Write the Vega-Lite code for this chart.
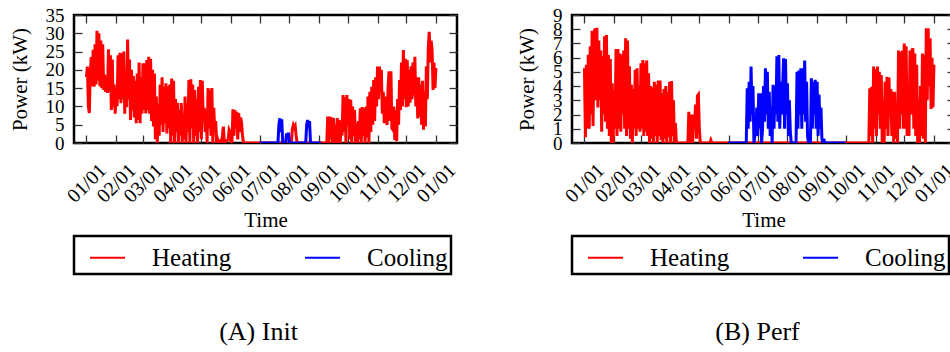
{
"$schema": "https://vega.github.io/schema/vega-lite/v6.json",
"background": "white",
"padding": {"left": 7, "top": 4, "right": 0, "bottom": 0},
"config": {
  "font": "Liberation Serif",
  "view": {"stroke": "black", "strokeWidth": 2.5},
  "axis": {"labelFont": "Liberation Serif", "titleFont": "Liberation Serif", "labelColor": "black", "titleColor": "black", "titleFontWeight": "normal", "domain": false, "grid": false, "tickColor": "#333", "tickWidth": 1.3, "tickSize": -8, "labelFontSize": 19, "titleFontSize": 21},
  "legend": {"labelFont": "Liberation Serif", "labelFontSize": 25, "labelColor": "black", "symbolType": "stroke", "symbolSize": 1225, "symbolStrokeWidth": 2, "labelOffset": 26, "columnPadding": 60, "padding": 3, "symbolOffset": 12, "strokeColor": "black", "strokeWidth": 2.5},
  "title": {"font": "Liberation Serif", "fontWeight": "normal", "color": "black"}
},
"datasets": {
"A": [
{"s":"Heating","t":"2021-01-01","v":18},{"s":"Heating","t":"2021-01-02","v":20.9},{"s":"Heating","t":"2021-01-03","v":10},{"s":"Heating","t":"2021-01-04","v":8.2},{"s":"Heating","t":"2021-01-05","v":19},{"s":"Heating","t":"2021-01-06","v":23.5},{"s":"Heating","t":"2021-01-07","v":15.5},{"s":"Heating","t":"2021-01-08","v":25.5},{"s":"Heating","t":"2021-01-09","v":15.4},{"s":"Heating","t":"2021-01-10","v":27},{"s":"Heating","t":"2021-01-11","v":16},{"s":"Heating","t":"2021-01-12","v":30.7},{"s":"Heating","t":"2021-01-13","v":17},{"s":"Heating","t":"2021-01-14","v":30},{"s":"Heating","t":"2021-01-15","v":15.5},{"s":"Heating","t":"2021-01-16","v":28},{"s":"Heating","t":"2021-01-17","v":15},{"s":"Heating","t":"2021-01-18","v":27},{"s":"Heating","t":"2021-01-19","v":14.5},{"s":"Heating","t":"2021-01-20","v":18.7},{"s":"Heating","t":"2021-01-21","v":14},{"s":"Heating","t":"2021-01-22","v":17},{"s":"Heating","t":"2021-01-23","v":13.7},{"s":"Heating","t":"2021-01-24","v":25.6},{"s":"Heating","t":"2021-01-25","v":14},{"s":"Heating","t":"2021-01-26","v":24},{"s":"Heating","t":"2021-01-27","v":9},{"s":"Heating","t":"2021-01-28","v":22.8},{"s":"Heating","t":"2021-01-29","v":9.8},{"s":"Heating","t":"2021-01-30","v":16},{"s":"Heating","t":"2021-01-31","v":8},
{"s":"Heating","t":"2021-02-01","v":14},{"s":"Heating","t":"2021-02-02","v":10},{"s":"Heating","t":"2021-02-03","v":24},{"s":"Heating","t":"2021-02-04","v":12},{"s":"Heating","t":"2021-02-05","v":24.7},{"s":"Heating","t":"2021-02-06","v":10.9},{"s":"Heating","t":"2021-02-07","v":24.5},{"s":"Heating","t":"2021-02-08","v":12},{"s":"Heating","t":"2021-02-09","v":25},{"s":"Heating","t":"2021-02-10","v":8},{"s":"Heating","t":"2021-02-11","v":20},{"s":"Heating","t":"2021-02-12","v":9.8},{"s":"Heating","t":"2021-02-13","v":28.3},{"s":"Heating","t":"2021-02-14","v":12},{"s":"Heating","t":"2021-02-15","v":22.8},{"s":"Heating","t":"2021-02-16","v":6.3},{"s":"Heating","t":"2021-02-17","v":20},{"s":"Heating","t":"2021-02-18","v":9},{"s":"Heating","t":"2021-02-19","v":18.3},{"s":"Heating","t":"2021-02-20","v":7},{"s":"Heating","t":"2021-02-21","v":17},{"s":"Heating","t":"2021-02-22","v":5.4},{"s":"Heating","t":"2021-02-23","v":19},{"s":"Heating","t":"2021-02-24","v":6.3},{"s":"Heating","t":"2021-02-25","v":22},{"s":"Heating","t":"2021-02-26","v":5.4},{"s":"Heating","t":"2021-02-27","v":18},{"s":"Heating","t":"2021-02-28","v":8},
{"s":"Heating","t":"2021-03-01","v":21.8},{"s":"Heating","t":"2021-03-02","v":9},{"s":"Heating","t":"2021-03-03","v":21.8},{"s":"Heating","t":"2021-03-04","v":8.1},{"s":"Heating","t":"2021-03-05","v":22.7},{"s":"Heating","t":"2021-03-06","v":9},{"s":"Heating","t":"2021-03-07","v":23.6},{"s":"Heating","t":"2021-03-08","v":8},{"s":"Heating","t":"2021-03-09","v":23},{"s":"Heating","t":"2021-03-10","v":6},{"s":"Heating","t":"2021-03-11","v":20},{"s":"Heating","t":"2021-03-12","v":4.5},{"s":"Heating","t":"2021-03-13","v":19},{"s":"Heating","t":"2021-03-14","v":1},{"s":"Heating","t":"2021-03-15","v":12.7},{"s":"Heating","t":"2021-03-16","v":0},{"s":"Heating","t":"2021-03-17","v":10.6},{"s":"Heating","t":"2021-03-18","v":2},{"s":"Heating","t":"2021-03-19","v":16},{"s":"Heating","t":"2021-03-20","v":5},{"s":"Heating","t":"2021-03-21","v":18},{"s":"Heating","t":"2021-03-22","v":3},{"s":"Heating","t":"2021-03-23","v":15.4},{"s":"Heating","t":"2021-03-24","v":5.4},{"s":"Heating","t":"2021-03-25","v":16.3},{"s":"Heating","t":"2021-03-26","v":2.6},{"s":"Heating","t":"2021-03-27","v":15.5},{"s":"Heating","t":"2021-03-28","v":4},{"s":"Heating","t":"2021-03-29","v":16},{"s":"Heating","t":"2021-03-30","v":0},{"s":"Heating","t":"2021-03-31","v":17.6},
{"s":"Heating","t":"2021-04-01","v":2},{"s":"Heating","t":"2021-04-02","v":17},{"s":"Heating","t":"2021-04-03","v":0},{"s":"Heating","t":"2021-04-04","v":12},{"s":"Heating","t":"2021-04-05","v":3},{"s":"Heating","t":"2021-04-06","v":11},{"s":"Heating","t":"2021-04-07","v":0},{"s":"Heating","t":"2021-04-08","v":9},{"s":"Heating","t":"2021-04-09","v":2},{"s":"Heating","t":"2021-04-10","v":10.9},{"s":"Heating","t":"2021-04-11","v":0},{"s":"Heating","t":"2021-04-12","v":8},{"s":"Heating","t":"2021-04-13","v":1},{"s":"Heating","t":"2021-04-14","v":12.7},{"s":"Heating","t":"2021-04-15","v":0},{"s":"Heating","t":"2021-04-16","v":11},{"s":"Heating","t":"2021-04-17","v":3},{"s":"Heating","t":"2021-04-18","v":17.2},{"s":"Heating","t":"2021-04-19","v":0},{"s":"Heating","t":"2021-04-20","v":17.4},{"s":"Heating","t":"2021-04-21","v":4},{"s":"Heating","t":"2021-04-22","v":16},{"s":"Heating","t":"2021-04-23","v":0},{"s":"Heating","t":"2021-04-24","v":14.5},{"s":"Heating","t":"2021-04-25","v":2},{"s":"Heating","t":"2021-04-26","v":12},{"s":"Heating","t":"2021-04-27","v":0},{"s":"Heating","t":"2021-04-28","v":15.4},{"s":"Heating","t":"2021-04-29","v":3},{"s":"Heating","t":"2021-04-30","v":17.2},
{"s":"Heating","t":"2021-05-01","v":1},{"s":"Heating","t":"2021-05-02","v":17},{"s":"Heating","t":"2021-05-03","v":6},{"s":"Heating","t":"2021-05-04","v":9.6},{"s":"Heating","t":"2021-05-05","v":3},{"s":"Heating","t":"2021-05-06","v":9},{"s":"Heating","t":"2021-05-07","v":0},{"s":"Heating","t":"2021-05-08","v":15},{"s":"Heating","t":"2021-05-09","v":4},{"s":"Heating","t":"2021-05-10","v":14.5},{"s":"Heating","t":"2021-05-11","v":2},{"s":"Heating","t":"2021-05-12","v":15},{"s":"Heating","t":"2021-05-13","v":0},{"s":"Heating","t":"2021-05-14","v":9.6},{"s":"Heating","t":"2021-05-15","v":3},{"s":"Heating","t":"2021-05-16","v":6},{"s":"Heating","t":"2021-05-17","v":0},{"s":"Heating","t":"2021-05-18","v":1},{"s":"Heating","t":"2021-05-19","v":0},{"s":"Heating","t":"2021-05-21","v":0.6},{"s":"Heating","t":"2021-05-22","v":0},{"s":"Heating","t":"2021-05-23","v":2},{"s":"Heating","t":"2021-05-24","v":4.5},{"s":"Heating","t":"2021-05-25","v":0},{"s":"Heating","t":"2021-05-29","v":1},{"s":"Heating","t":"2021-05-30","v":3.6},{"s":"Heating","t":"2021-05-31","v":3},
{"s":"Heating","t":"2021-06-01","v":0},{"s":"Heating","t":"2021-06-02","v":0},{"s":"Heating","t":"2021-06-03","v":9.2},{"s":"Heating","t":"2021-06-04","v":2},{"s":"Heating","t":"2021-06-05","v":9},{"s":"Heating","t":"2021-06-06","v":4},{"s":"Heating","t":"2021-06-07","v":8.5},{"s":"Heating","t":"2021-06-08","v":1},{"s":"Heating","t":"2021-06-09","v":8.2},{"s":"Heating","t":"2021-06-10","v":3},{"s":"Heating","t":"2021-06-11","v":7},{"s":"Heating","t":"2021-06-12","v":5.5},{"s":"Heating","t":"2021-06-13","v":2},{"s":"Heating","t":"2021-06-14","v":0},
{"s":"Heating","t":"2021-08-03","v":0},{"s":"Heating","t":"2021-08-04","v":3.8},{"s":"Heating","t":"2021-08-05","v":4.9},{"s":"Heating","t":"2021-08-06","v":4.2},{"s":"Heating","t":"2021-08-07","v":4.7},{"s":"Heating","t":"2021-08-08","v":2},{"s":"Heating","t":"2021-08-09","v":0},
{"s":"Heating","t":"2021-09-09","v":0},{"s":"Heating","t":"2021-09-10","v":7.2},{"s":"Heating","t":"2021-09-11","v":0},{"s":"Heating","t":"2021-09-12","v":7.2},{"s":"Heating","t":"2021-09-13","v":1},{"s":"Heating","t":"2021-09-14","v":7},{"s":"Heating","t":"2021-09-15","v":0},{"s":"Heating","t":"2021-09-16","v":6.8},{"s":"Heating","t":"2021-09-17","v":0},{"s":"Heating","t":"2021-09-18","v":5},{"s":"Heating","t":"2021-09-19","v":0},{"s":"Heating","t":"2021-09-20","v":6.8},{"s":"Heating","t":"2021-09-21","v":0},{"s":"Heating","t":"2021-09-22","v":6.3},{"s":"Heating","t":"2021-09-23","v":0},{"s":"Heating","t":"2021-09-24","v":5},{"s":"Heating","t":"2021-09-25","v":2},{"s":"Heating","t":"2021-09-26","v":13.1},{"s":"Heating","t":"2021-09-27","v":3},{"s":"Heating","t":"2021-09-28","v":12.5},{"s":"Heating","t":"2021-09-29","v":0},{"s":"Heating","t":"2021-09-30","v":13.1},
{"s":"Heating","t":"2021-10-01","v":5},{"s":"Heating","t":"2021-10-02","v":12},{"s":"Heating","t":"2021-10-03","v":1},{"s":"Heating","t":"2021-10-04","v":11.8},{"s":"Heating","t":"2021-10-05","v":0},{"s":"Heating","t":"2021-10-06","v":10},{"s":"Heating","t":"2021-10-07","v":2},{"s":"Heating","t":"2021-10-08","v":9},{"s":"Heating","t":"2021-10-09","v":0},{"s":"Heating","t":"2021-10-10","v":5.4},{"s":"Heating","t":"2021-10-11","v":0},{"s":"Heating","t":"2021-10-12","v":6},{"s":"Heating","t":"2021-10-13","v":1},{"s":"Heating","t":"2021-10-14","v":9.5},{"s":"Heating","t":"2021-10-15","v":0},{"s":"Heating","t":"2021-10-16","v":9.8},{"s":"Heating","t":"2021-10-17","v":2},{"s":"Heating","t":"2021-10-18","v":9.5},{"s":"Heating","t":"2021-10-19","v":0},{"s":"Heating","t":"2021-10-20","v":10},{"s":"Heating","t":"2021-10-21","v":1.5},{"s":"Heating","t":"2021-10-22","v":12.7},{"s":"Heating","t":"2021-10-23","v":0},{"s":"Heating","t":"2021-10-24","v":14},{"s":"Heating","t":"2021-10-25","v":3},{"s":"Heating","t":"2021-10-26","v":15.4},{"s":"Heating","t":"2021-10-27","v":5},{"s":"Heating","t":"2021-10-28","v":17.2},{"s":"Heating","t":"2021-10-29","v":6},{"s":"Heating","t":"2021-10-30","v":18},{"s":"Heating","t":"2021-10-31","v":10},
{"s":"Heating","t":"2021-11-01","v":20.9},{"s":"Heating","t":"2021-11-02","v":12},{"s":"Heating","t":"2021-11-03","v":20.9},{"s":"Heating","t":"2021-11-04","v":13.6},{"s":"Heating","t":"2021-11-05","v":20},{"s":"Heating","t":"2021-11-06","v":8},{"s":"Heating","t":"2021-11-07","v":14},{"s":"Heating","t":"2021-11-08","v":5.4},{"s":"Heating","t":"2021-11-09","v":12.7},{"s":"Heating","t":"2021-11-10","v":8},{"s":"Heating","t":"2021-11-11","v":4.9},{"s":"Heating","t":"2021-11-12","v":15},{"s":"Heating","t":"2021-11-13","v":19.6},{"s":"Heating","t":"2021-11-14","v":6},{"s":"Heating","t":"2021-11-15","v":19.6},{"s":"Heating","t":"2021-11-16","v":4},{"s":"Heating","t":"2021-11-17","v":3.6},{"s":"Heating","t":"2021-11-18","v":10},{"s":"Heating","t":"2021-11-19","v":0.8},{"s":"Heating","t":"2021-11-20","v":9},{"s":"Heating","t":"2021-11-21","v":0.5},{"s":"Heating","t":"2021-11-22","v":12},{"s":"Heating","t":"2021-11-23","v":5},{"s":"Heating","t":"2021-11-24","v":17.2},{"s":"Heating","t":"2021-11-25","v":9},{"s":"Heating","t":"2021-11-26","v":22},{"s":"Heating","t":"2021-11-27","v":10},{"s":"Heating","t":"2021-11-28","v":25.4},{"s":"Heating","t":"2021-11-29","v":12},{"s":"Heating","t":"2021-11-30","v":23},
{"s":"Heating","t":"2021-12-01","v":9.8},{"s":"Heating","t":"2021-12-02","v":22.7},{"s":"Heating","t":"2021-12-03","v":10},{"s":"Heating","t":"2021-12-04","v":20},{"s":"Heating","t":"2021-12-05","v":11},{"s":"Heating","t":"2021-12-06","v":21},{"s":"Heating","t":"2021-12-07","v":12},{"s":"Heating","t":"2021-12-08","v":22},{"s":"Heating","t":"2021-12-09","v":13},{"s":"Heating","t":"2021-12-10","v":23.6},{"s":"Heating","t":"2021-12-11","v":10},{"s":"Heating","t":"2021-12-12","v":18},{"s":"Heating","t":"2021-12-13","v":6.7},{"s":"Heating","t":"2021-12-14","v":18},{"s":"Heating","t":"2021-12-15","v":7.2},{"s":"Heating","t":"2021-12-16","v":16},{"s":"Heating","t":"2021-12-17","v":5},{"s":"Heating","t":"2021-12-18","v":17},{"s":"Heating","t":"2021-12-19","v":3.6},{"s":"Heating","t":"2021-12-20","v":14},{"s":"Heating","t":"2021-12-21","v":4.5},{"s":"Heating","t":"2021-12-22","v":21},{"s":"Heating","t":"2021-12-23","v":12},{"s":"Heating","t":"2021-12-24","v":26},{"s":"Heating","t":"2021-12-25","v":30.4},{"s":"Heating","t":"2021-12-26","v":22},{"s":"Heating","t":"2021-12-27","v":28},{"s":"Heating","t":"2021-12-28","v":25.4},{"s":"Heating","t":"2021-12-29","v":14.5},{"s":"Heating","t":"2021-12-30","v":22},{"s":"Heating","t":"2021-12-31","v":15},{"s":"Heating","t":"2022-01-01","v":20.5},
{"s":"Cooling","t":"2021-07-01","v":0},{"s":"Cooling","t":"2021-07-20","v":0},{"s":"Cooling","t":"2021-07-21","v":5},{"s":"Cooling","t":"2021-07-22","v":6.75},{"s":"Cooling","t":"2021-07-23","v":3},{"s":"Cooling","t":"2021-07-24","v":6.5},{"s":"Cooling","t":"2021-07-25","v":0},{"s":"Cooling","t":"2021-07-28","v":0},{"s":"Cooling","t":"2021-07-29","v":2.6},{"s":"Cooling","t":"2021-07-30","v":1.5},{"s":"Cooling","t":"2021-07-31","v":2.8},{"s":"Cooling","t":"2021-08-01","v":0},{"s":"Cooling","t":"2021-08-18","v":0},{"s":"Cooling","t":"2021-08-19","v":5},{"s":"Cooling","t":"2021-08-20","v":6.3},{"s":"Cooling","t":"2021-08-21","v":4},{"s":"Cooling","t":"2021-08-22","v":6},{"s":"Cooling","t":"2021-08-23","v":0},{"s":"Cooling","t":"2021-09-03","v":0}
],
"B": [
{"s":"Heating","t":"2021-01-01","v":5.25},{"s":"Heating","t":"2021-01-02","v":0.4},{"s":"Heating","t":"2021-01-03","v":5.5},{"s":"Heating","t":"2021-01-04","v":1},{"s":"Heating","t":"2021-01-05","v":6.2},{"s":"Heating","t":"2021-01-06","v":1},{"s":"Heating","t":"2021-01-07","v":6.8},{"s":"Heating","t":"2021-01-08","v":2},{"s":"Heating","t":"2021-01-09","v":7.9},{"s":"Heating","t":"2021-01-10","v":1.2},{"s":"Heating","t":"2021-01-11","v":7.5},{"s":"Heating","t":"2021-01-12","v":8.06},{"s":"Heating","t":"2021-01-13","v":3},{"s":"Heating","t":"2021-01-14","v":8.1},{"s":"Heating","t":"2021-01-15","v":2.5},{"s":"Heating","t":"2021-01-16","v":7.2},{"s":"Heating","t":"2021-01-17","v":3},{"s":"Heating","t":"2021-01-18","v":6.5},{"s":"Heating","t":"2021-01-19","v":0.8},{"s":"Heating","t":"2021-01-20","v":6.1},{"s":"Heating","t":"2021-01-21","v":2},{"s":"Heating","t":"2021-01-22","v":7.5},{"s":"Heating","t":"2021-01-23","v":1.5},{"s":"Heating","t":"2021-01-24","v":7.6},{"s":"Heating","t":"2021-01-25","v":1},{"s":"Heating","t":"2021-01-26","v":6.2},{"s":"Heating","t":"2021-01-27","v":0.5},{"s":"Heating","t":"2021-01-28","v":5.9},{"s":"Heating","t":"2021-01-29","v":0},{"s":"Heating","t":"2021-01-30","v":4.2},{"s":"Heating","t":"2021-01-31","v":0},
{"s":"Heating","t":"2021-02-01","v":3.7},{"s":"Heating","t":"2021-02-02","v":1},{"s":"Heating","t":"2021-02-03","v":6.6},{"s":"Heating","t":"2021-02-04","v":0.5},{"s":"Heating","t":"2021-02-05","v":6.6},{"s":"Heating","t":"2021-02-06","v":1},{"s":"Heating","t":"2021-02-07","v":6.3},{"s":"Heating","t":"2021-02-08","v":0.8},{"s":"Heating","t":"2021-02-09","v":6.2},{"s":"Heating","t":"2021-02-10","v":2},{"s":"Heating","t":"2021-02-11","v":6.5},{"s":"Heating","t":"2021-02-12","v":1},{"s":"Heating","t":"2021-02-13","v":7.37},{"s":"Heating","t":"2021-02-14","v":0.5},{"s":"Heating","t":"2021-02-15","v":7.2},{"s":"Heating","t":"2021-02-16","v":1},{"s":"Heating","t":"2021-02-17","v":5.4},{"s":"Heating","t":"2021-02-18","v":0.3},{"s":"Heating","t":"2021-02-19","v":4.1},{"s":"Heating","t":"2021-02-20","v":0},{"s":"Heating","t":"2021-02-21","v":3.8},{"s":"Heating","t":"2021-02-22","v":1},{"s":"Heating","t":"2021-02-23","v":5.15},{"s":"Heating","t":"2021-02-24","v":0.5},{"s":"Heating","t":"2021-02-25","v":5.25},{"s":"Heating","t":"2021-02-26","v":1},{"s":"Heating","t":"2021-02-27","v":4},{"s":"Heating","t":"2021-02-28","v":0.8},
{"s":"Heating","t":"2021-03-01","v":5.6},{"s":"Heating","t":"2021-03-02","v":1},{"s":"Heating","t":"2021-03-03","v":5.83},{"s":"Heating","t":"2021-03-04","v":0.5},{"s":"Heating","t":"2021-03-05","v":5.6},{"s":"Heating","t":"2021-03-06","v":0.8},{"s":"Heating","t":"2021-03-07","v":5.8},{"s":"Heating","t":"2021-03-08","v":0.5},{"s":"Heating","t":"2021-03-09","v":4.9},{"s":"Heating","t":"2021-03-10","v":0},{"s":"Heating","t":"2021-03-11","v":4},{"s":"Heating","t":"2021-03-12","v":0.3},{"s":"Heating","t":"2021-03-13","v":3.9},{"s":"Heating","t":"2021-03-14","v":0},{"s":"Heating","t":"2021-03-15","v":4.3},{"s":"Heating","t":"2021-03-16","v":0.5},{"s":"Heating","t":"2021-03-17","v":4.1},{"s":"Heating","t":"2021-03-18","v":0},{"s":"Heating","t":"2021-03-19","v":4.4},{"s":"Heating","t":"2021-03-20","v":0.5},{"s":"Heating","t":"2021-03-21","v":4.4},{"s":"Heating","t":"2021-03-22","v":0.2},{"s":"Heating","t":"2021-03-23","v":3.5},{"s":"Heating","t":"2021-03-24","v":0},{"s":"Heating","t":"2021-03-25","v":3.8},{"s":"Heating","t":"2021-03-26","v":0.3},{"s":"Heating","t":"2021-03-27","v":4},{"s":"Heating","t":"2021-03-28","v":0},{"s":"Heating","t":"2021-03-29","v":3.6},{"s":"Heating","t":"2021-03-30","v":0.4},{"s":"Heating","t":"2021-03-31","v":4.3},
{"s":"Heating","t":"2021-04-01","v":0},{"s":"Heating","t":"2021-04-02","v":4.35},{"s":"Heating","t":"2021-04-03","v":0.5},{"s":"Heating","t":"2021-04-04","v":3},{"s":"Heating","t":"2021-04-05","v":0},{"s":"Heating","t":"2021-04-06","v":1.4},{"s":"Heating","t":"2021-04-07","v":0},{"s":"Heating","t":"2021-04-19","v":0},{"s":"Heating","t":"2021-04-20","v":2.2},{"s":"Heating","t":"2021-04-21","v":0},{"s":"Heating","t":"2021-04-22","v":1.6},{"s":"Heating","t":"2021-04-23","v":2},{"s":"Heating","t":"2021-04-24","v":0},{"s":"Heating","t":"2021-04-25","v":2},{"s":"Heating","t":"2021-04-26","v":1},{"s":"Heating","t":"2021-04-27","v":2.7},{"s":"Heating","t":"2021-04-28","v":0.3},{"s":"Heating","t":"2021-04-29","v":3.3},{"s":"Heating","t":"2021-04-30","v":3.4},
{"s":"Heating","t":"2021-05-01","v":1},{"s":"Heating","t":"2021-05-02","v":0},{"s":"Heating","t":"2021-05-12","v":0},{"s":"Heating","t":"2021-05-13","v":0.2},{"s":"Heating","t":"2021-05-14","v":0},
{"s":"Heating","t":"2021-10-25","v":0},{"s":"Heating","t":"2021-10-26","v":3.85},{"s":"Heating","t":"2021-10-27","v":0.5},{"s":"Heating","t":"2021-10-28","v":3.96},{"s":"Heating","t":"2021-10-29","v":0},{"s":"Heating","t":"2021-10-30","v":5.37},{"s":"Heating","t":"2021-10-31","v":1},
{"s":"Heating","t":"2021-11-01","v":5.2},{"s":"Heating","t":"2021-11-02","v":0.5},{"s":"Heating","t":"2021-11-03","v":5.37},{"s":"Heating","t":"2021-11-04","v":2},{"s":"Heating","t":"2021-11-05","v":5},{"s":"Heating","t":"2021-11-06","v":1},{"s":"Heating","t":"2021-11-07","v":4.78},{"s":"Heating","t":"2021-11-08","v":0},{"s":"Heating","t":"2021-11-09","v":3},{"s":"Heating","t":"2021-11-10","v":0},{"s":"Heating","t":"2021-11-11","v":4.3},{"s":"Heating","t":"2021-11-12","v":1},{"s":"Heating","t":"2021-11-13","v":4.66},{"s":"Heating","t":"2021-11-14","v":0.5},{"s":"Heating","t":"2021-11-15","v":4.6},{"s":"Heating","t":"2021-11-16","v":2},{"s":"Heating","t":"2021-11-17","v":3.8},{"s":"Heating","t":"2021-11-18","v":0.5},{"s":"Heating","t":"2021-11-19","v":3.6},{"s":"Heating","t":"2021-11-20","v":0},{"s":"Heating","t":"2021-11-21","v":3.6},{"s":"Heating","t":"2021-11-22","v":0.3},{"s":"Heating","t":"2021-11-23","v":2},{"s":"Heating","t":"2021-11-24","v":0},{"s":"Heating","t":"2021-11-25","v":6.5},{"s":"Heating","t":"2021-11-26","v":1},{"s":"Heating","t":"2021-11-27","v":6.4},{"s":"Heating","t":"2021-11-28","v":2},{"s":"Heating","t":"2021-11-29","v":6.5},{"s":"Heating","t":"2021-11-30","v":1},
{"s":"Heating","t":"2021-12-01","v":7},{"s":"Heating","t":"2021-12-02","v":1},{"s":"Heating","t":"2021-12-03","v":6.8},{"s":"Heating","t":"2021-12-04","v":0.5},{"s":"Heating","t":"2021-12-05","v":4},{"s":"Heating","t":"2021-12-06","v":0.5},{"s":"Heating","t":"2021-12-07","v":6.5},{"s":"Heating","t":"2021-12-08","v":2},{"s":"Heating","t":"2021-12-09","v":6.5},{"s":"Heating","t":"2021-12-10","v":6.66},{"s":"Heating","t":"2021-12-11","v":1},{"s":"Heating","t":"2021-12-12","v":6.3},{"s":"Heating","t":"2021-12-13","v":0.5},{"s":"Heating","t":"2021-12-14","v":5.5},{"s":"Heating","t":"2021-12-15","v":0},{"s":"Heating","t":"2021-12-16","v":3},{"s":"Heating","t":"2021-12-17","v":0},{"s":"Heating","t":"2021-12-18","v":4},{"s":"Heating","t":"2021-12-19","v":0.5},{"s":"Heating","t":"2021-12-20","v":6.3},{"s":"Heating","t":"2021-12-21","v":0.3},{"s":"Heating","t":"2021-12-22","v":6.2},{"s":"Heating","t":"2021-12-23","v":0},{"s":"Heating","t":"2021-12-24","v":8.06},{"s":"Heating","t":"2021-12-25","v":3},{"s":"Heating","t":"2021-12-26","v":8.06},{"s":"Heating","t":"2021-12-27","v":4},{"s":"Heating","t":"2021-12-28","v":7.36},{"s":"Heating","t":"2021-12-29","v":2.4},{"s":"Heating","t":"2021-12-30","v":6},{"s":"Heating","t":"2021-12-31","v":2.5},{"s":"Heating","t":"2022-01-01","v":5.5},
{"s":"Cooling","t":"2021-05-31","v":0},{"s":"Cooling","t":"2021-06-19","v":0},{"s":"Cooling","t":"2021-06-20","v":3.85},{"s":"Cooling","t":"2021-06-21","v":1},{"s":"Cooling","t":"2021-06-22","v":4.3},{"s":"Cooling","t":"2021-06-23","v":1.5},{"s":"Cooling","t":"2021-06-24","v":5.37},{"s":"Cooling","t":"2021-06-25","v":2},{"s":"Cooling","t":"2021-06-26","v":4},{"s":"Cooling","t":"2021-06-27","v":0},{"s":"Cooling","t":"2021-06-29","v":1},{"s":"Cooling","t":"2021-06-30","v":2.5},
{"s":"Cooling","t":"2021-07-01","v":0.5},{"s":"Cooling","t":"2021-07-02","v":3.5},{"s":"Cooling","t":"2021-07-03","v":1},{"s":"Cooling","t":"2021-07-04","v":3.5},{"s":"Cooling","t":"2021-07-05","v":0},{"s":"Cooling","t":"2021-07-06","v":1},{"s":"Cooling","t":"2021-07-07","v":4},{"s":"Cooling","t":"2021-07-08","v":1.5},{"s":"Cooling","t":"2021-07-09","v":5.25},{"s":"Cooling","t":"2021-07-10","v":2},{"s":"Cooling","t":"2021-07-11","v":5},{"s":"Cooling","t":"2021-07-12","v":1},{"s":"Cooling","t":"2021-07-13","v":3.6},{"s":"Cooling","t":"2021-07-14","v":0.5},{"s":"Cooling","t":"2021-07-15","v":2.5},{"s":"Cooling","t":"2021-07-16","v":0},{"s":"Cooling","t":"2021-07-17","v":4.1},{"s":"Cooling","t":"2021-07-18","v":1},{"s":"Cooling","t":"2021-07-19","v":4},{"s":"Cooling","t":"2021-07-20","v":2},{"s":"Cooling","t":"2021-07-21","v":6.1},{"s":"Cooling","t":"2021-07-22","v":1.5},{"s":"Cooling","t":"2021-07-23","v":6.19},{"s":"Cooling","t":"2021-07-24","v":1},{"s":"Cooling","t":"2021-07-25","v":4.3},{"s":"Cooling","t":"2021-07-26","v":2},{"s":"Cooling","t":"2021-07-27","v":4},{"s":"Cooling","t":"2021-07-28","v":5.95},{"s":"Cooling","t":"2021-07-29","v":1},{"s":"Cooling","t":"2021-07-30","v":5.9},{"s":"Cooling","t":"2021-07-31","v":2},
{"s":"Cooling","t":"2021-08-01","v":4.2},{"s":"Cooling","t":"2021-08-02","v":0.5},{"s":"Cooling","t":"2021-08-03","v":3},{"s":"Cooling","t":"2021-08-04","v":0.8},{"s":"Cooling","t":"2021-08-05","v":0},{"s":"Cooling","t":"2021-08-10","v":0},{"s":"Cooling","t":"2021-08-11","v":5},{"s":"Cooling","t":"2021-08-12","v":1},{"s":"Cooling","t":"2021-08-13","v":5.1},{"s":"Cooling","t":"2021-08-14","v":2},{"s":"Cooling","t":"2021-08-15","v":5.25},{"s":"Cooling","t":"2021-08-16","v":1},{"s":"Cooling","t":"2021-08-17","v":5.25},{"s":"Cooling","t":"2021-08-18","v":2},{"s":"Cooling","t":"2021-08-19","v":5.8},{"s":"Cooling","t":"2021-08-20","v":1.5},{"s":"Cooling","t":"2021-08-21","v":4.3},{"s":"Cooling","t":"2021-08-22","v":0.5},{"s":"Cooling","t":"2021-08-23","v":0},{"s":"Cooling","t":"2021-08-25","v":0},{"s":"Cooling","t":"2021-08-26","v":4.55},{"s":"Cooling","t":"2021-08-27","v":1},{"s":"Cooling","t":"2021-08-28","v":4.3},{"s":"Cooling","t":"2021-08-29","v":2},{"s":"Cooling","t":"2021-08-30","v":4.45},{"s":"Cooling","t":"2021-08-31","v":1},
{"s":"Cooling","t":"2021-09-01","v":4.3},{"s":"Cooling","t":"2021-09-02","v":0.5},{"s":"Cooling","t":"2021-09-03","v":3.4},{"s":"Cooling","t":"2021-09-04","v":1},{"s":"Cooling","t":"2021-09-05","v":2.5},{"s":"Cooling","t":"2021-09-06","v":0.3},{"s":"Cooling","t":"2021-09-07","v":0},{"s":"Cooling","t":"2021-09-08","v":0.3},{"s":"Cooling","t":"2021-09-09","v":0},{"s":"Cooling","t":"2021-10-01","v":0}
]
},
"spacing": 54,
"resolve": {"scale": {"color": "independent"}, "legend": {"color": "independent"}},
"hconcat": [
{
  "width": 383, "height": 128,
  "title": {"text": "(A) Init", "orient": "bottom", "offset": 44, "fontSize": 26, "anchor": "middle", "dx": -7},
  "data": {"name": "A"},
  "resolve": {"axis": {"x": "independent", "y": "independent"}},
  "layer": [
    {
      "transform": [{"filter": "datum.s === 'Heating'"}],
      "mark": {"type": "line", "strokeWidth": 3, "clip": true},
      "encoding": {
        "x": {"field": "t", "type": "temporal", "scale": {"type": "utc", "domain": [{"year": 2020, "month": 12, "date": 19, "utc": true}, {"year": 2022, "month": 1, "date": 23, "utc": true}]}, "axis": {"orient": "bottom", "tickCount": {"interval": "month", "step": 1}, "format": "%m/%d", "labelAngle": -45, "labelAlign": "center", "labelBaseline": "middle", "labelPadding": 48, "labelFontSize": 20, "labelOverlap": false, "labelFlush": false, "labelBound": false, "title": "Time", "titlePadding": 3}},
        "y": {"field": "v", "type": "quantitative", "scale": {"domain": [0, 35]}, "axis": {"orient": "left", "values": [0, 5, 10, 15, 20, 25, 30, 35], "labelOverlap": false, "title": "Power (kW)", "labelPadding": 18, "titlePadding": 15}},
        "color": {"field": "s", "type": "nominal", "scale": {"domain": ["Heating", "Cooling"], "range": ["#ff0000", "#0000ff"]}, "legend": {"title": null, "orient": "none", "legendX": 0, "legendY": 221, "direction": "horizontal"}}
      }
    },
    {
      "transform": [{"filter": "datum.s === 'Cooling'"}],
      "mark": {"type": "line", "strokeWidth": 3, "clip": true},
      "encoding": {
        "x": {"field": "t", "type": "temporal", "scale": {"type": "utc", "domain": [{"year": 2020, "month": 12, "date": 19, "utc": true}, {"year": 2022, "month": 1, "date": 23, "utc": true}]}, "axis": {"orient": "top", "tickCount": {"interval": "month", "step": 1}, "labels": false, "title": null}},
        "y": {"field": "v", "type": "quantitative", "scale": {"domain": [0, 35]}, "axis": {"orient": "right", "values": [0, 5, 10, 15, 20, 25, 30, 35], "labels": false, "title": null}},
        "color": {"field": "s", "type": "nominal", "scale": {"domain": ["Heating", "Cooling"], "range": ["#ff0000", "#0000ff"]}, "legend": {"title": null, "orient": "none", "legendX": 0, "legendY": 221, "direction": "horizontal"}}
      }
    }
  ]
},
{
  "width": 383, "height": 128,
  "title": {"text": "(B) Perf", "orient": "bottom", "offset": 44, "fontSize": 26, "anchor": "middle", "dx": -6},
  "data": {"name": "B"},
  "resolve": {"axis": {"x": "independent", "y": "independent"}},
  "layer": [
    {
      "transform": [{"filter": "datum.s === 'Heating'"}],
      "mark": {"type": "line", "strokeWidth": 3, "clip": true},
      "encoding": {
        "x": {"field": "t", "type": "temporal", "scale": {"type": "utc", "domain": [{"year": 2020, "month": 12, "date": 19, "utc": true}, {"year": 2022, "month": 1, "date": 23, "utc": true}]}, "axis": {"orient": "bottom", "tickCount": {"interval": "month", "step": 1}, "format": "%m/%d", "labelAngle": -45, "labelAlign": "center", "labelBaseline": "middle", "labelPadding": 48, "labelFontSize": 20, "labelOverlap": false, "labelFlush": false, "labelBound": false, "title": "Time", "titlePadding": 3}},
        "y": {"field": "v", "type": "quantitative", "scale": {"domain": [0, 9]}, "axis": {"orient": "left", "values": [0, 1, 2, 3, 4, 5, 6, 7, 8, 9], "labelOverlap": false, "title": "Power (kW)", "labelPadding": 18, "titlePadding": 15}},
        "color": {"field": "s", "type": "nominal", "scale": {"domain": ["Heating", "Cooling"], "range": ["#ff0000", "#0000ff"]}, "legend": {"title": null, "orient": "none", "legendX": 0, "legendY": 221, "direction": "horizontal"}}
      }
    },
    {
      "transform": [{"filter": "datum.s === 'Cooling'"}],
      "mark": {"type": "line", "strokeWidth": 3, "clip": true},
      "encoding": {
        "x": {"field": "t", "type": "temporal", "scale": {"type": "utc", "domain": [{"year": 2020, "month": 12, "date": 19, "utc": true}, {"year": 2022, "month": 1, "date": 23, "utc": true}]}, "axis": {"orient": "top", "tickCount": {"interval": "month", "step": 1}, "labels": false, "title": null}},
        "y": {"field": "v", "type": "quantitative", "scale": {"domain": [0, 9]}, "axis": {"orient": "right", "values": [0, 1, 2, 3, 4, 5, 6, 7, 8, 9], "labels": false, "title": null}},
        "color": {"field": "s", "type": "nominal", "scale": {"domain": ["Heating", "Cooling"], "range": ["#ff0000", "#0000ff"]}, "legend": {"title": null, "orient": "none", "legendX": 0, "legendY": 221, "direction": "horizontal"}}
      }
    }
  ]
}
]
}
